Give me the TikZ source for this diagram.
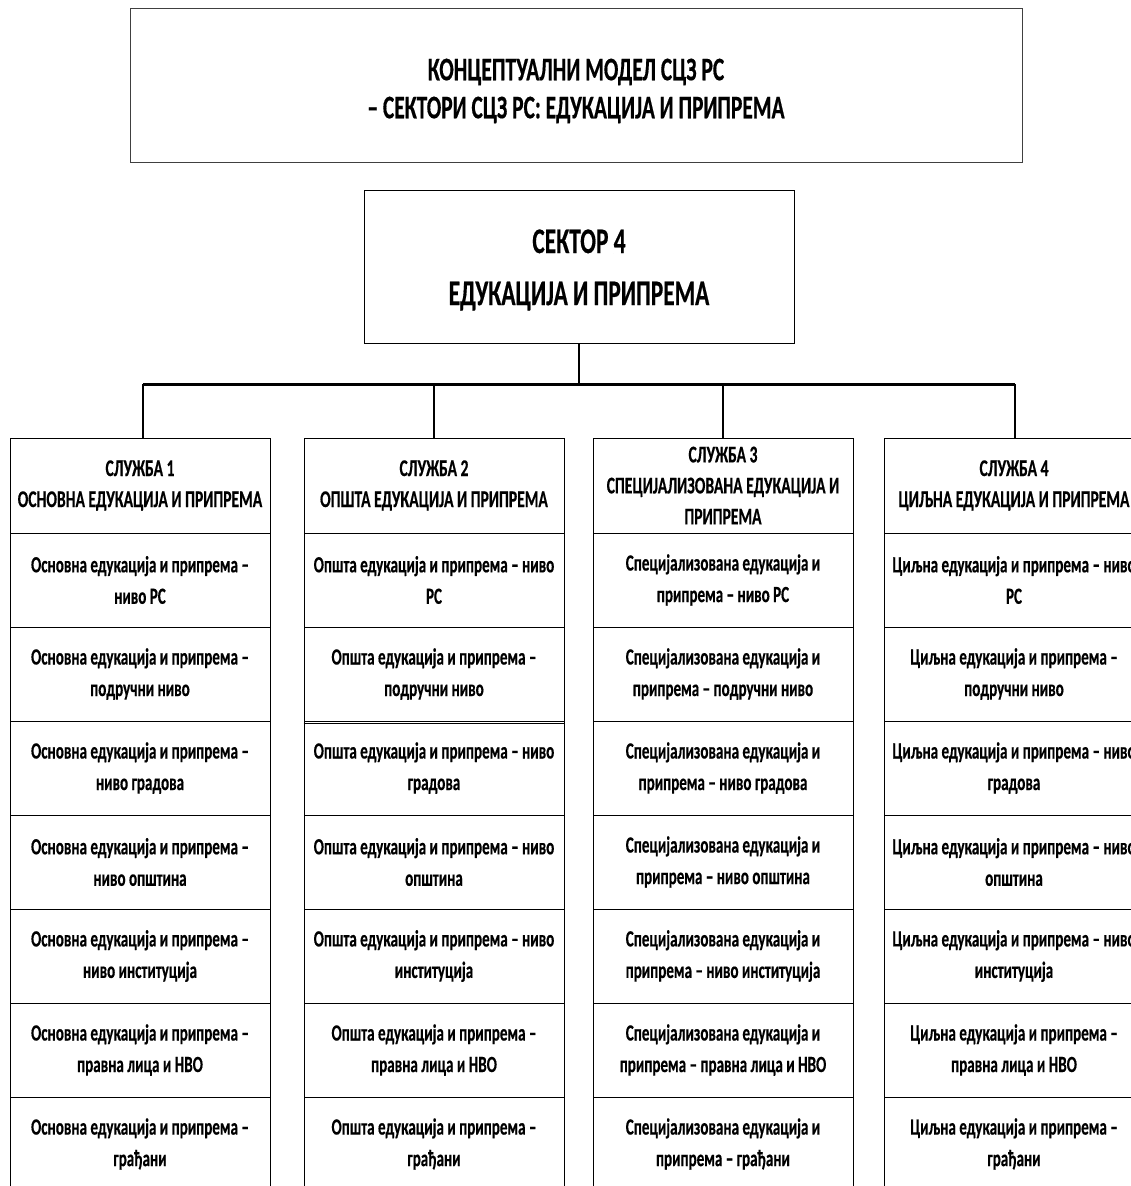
\documentclass[tikz,border=0pt]{standalone}
\usepackage{fontspec}
\setmainfont{Carlito}[FakeStretch=0.65, BoldFeatures={FakeBold=0.4}]
\begin{document}
\begin{tikzpicture}[x=1pt,y=-1pt,
  box/.style={draw, line width=1pt, align=center, inner sep=0pt},
  label/.style={align=center, inner sep=0pt},
  titlebox/.style={box, draw=black!75, minimum width=892pt, minimum height=154pt},
  titletext/.style={label, font=\bfseries\fontsize{33}{38}\selectfont},
  sectorbox/.style={box, minimum width=430pt, minimum height=153pt},
  sectortext/.style={label, font=\bfseries\fontsize{36}{52}\selectfont},
  cell/.style={box, minimum width=260pt, minimum height=94pt,
    font=\bfseries\fontsize{23.2}{31.5}\selectfont},
  headcell/.style={cell, minimum height=95pt,
    font=\bfseries\fontsize{24}{31}\selectfont},
  link/.style={line width=1.2pt},
  bus/.style={line width=3pt}]
\useasboundingbox (0,0) rectangle (1131,1186);
\clip (0,0) rectangle (1131,1186);

% title and sector boxes with their captions
\node[titlebox] (title) at (576,85) {};
\node[titletext] (titlet) at (576,91) {КОНЦЕПТУАЛНИ МОДЕЛ СЦЗ РС\\– СЕКТОРИ СЦЗ РС: ЕДУКАЦИЈА И ПРИПРЕМА};
\node[sectorbox] (sector) at (579,266.5) {};
\node[sectortext] (sectort) at (579,270) {СЕКТОР 4\\ЕДУКАЦИЈА И ПРИПРЕМА};

% column 1
\node[headcell] (c1h) at (140,485.5) {СЛУЖБА 1\\ОСНОВНА ЕДУКАЦИЈА И ПРИПРЕМА};
\node[cell] (c1r1) at (140,580) {Основна едукација и припрема –\\ниво РС};
\node[cell] (c1r2) at (140,674) {Основна едукација и припрема –\\подручни ниво};
\node[cell] (c1r3) at (140,768) {Основна едукација и припрема –\\ниво градова};
\node[cell] (c1r4) at (140,862) {Основна едукација и припрема –\\ниво општина};
\node[cell] (c1r5) at (140,956) {Основна едукација и припрема –\\ниво институција};
\node[cell] (c1r6) at (140,1050) {Основна едукација и припрема –\\правна лица и НВО};
\node[cell] (c1r7) at (140,1144) {Основна едукација и припрема –\\грађани};

% column 2
\node[headcell] (c2h) at (434,485.5) {СЛУЖБА 2\\ОПШТА ЕДУКАЦИЈА И ПРИПРЕМА};
\node[cell] (c2r1) at (434,580) {Општа едукација и припрема – ниво\\РС};
\node[cell] (c2r2) at (434,674) {Општа едукација и припрема –\\подручни ниво};
\node[cell] (c2r3) at (434,768) {Општа едукација и припрема – ниво\\градова};
\node[cell] (c2r4) at (434,862) {Општа едукација и припрема – ниво\\општина};
\node[cell] (c2r5) at (434,956) {Општа едукација и припрема – ниво\\институција};
\node[cell] (c2r6) at (434,1050) {Општа едукација и припрема –\\правна лица и НВО};
\node[cell] (c2r7) at (434,1144) {Општа едукација и припрема –\\грађани};
\draw[line width=1pt] ([yshift=-2.5pt]c2r3.north west) -- ([yshift=-2.5pt]c2r3.north east);

% column 3
\node[headcell] (c3h) at (723,485.5) {СЛУЖБА 3\\СПЕЦИЈАЛИЗОВАНА ЕДУКАЦИЈА И\\ПРИПРЕМА};
\node[cell] (c3r1) at (723,580) {Специјализована едукација и\\припрема – ниво РС};
\node[cell] (c3r2) at (723,674) {Специјализована едукација и\\припрема – подручни ниво};
\node[cell] (c3r3) at (723,768) {Специјализована едукација и\\припрема – ниво градова};
\node[cell] (c3r4) at (723,862) {Специјализована едукација и\\припрема – ниво општина};
\node[cell] (c3r5) at (723,956) {Специјализована едукација и\\припрема – ниво институција};
\node[cell] (c3r6) at (723,1050) {Специјализована едукација и\\припрема – правна лица и НВО};
\node[cell] (c3r7) at (723,1144) {Специјализована едукација и\\припрема – грађани};

% column 4
\node[headcell] (c4h) at (1014,485.5) {СЛУЖБА 4\\ЦИЉНА ЕДУКАЦИЈА И ПРИПРЕМА};
\node[cell] (c4r1) at (1014,580) {Циљна едукација и припрема – ниво\\РС};
\node[cell] (c4r2) at (1014,674) {Циљна едукација и припрема –\\подручни ниво};
\node[cell] (c4r3) at (1014,768) {Циљна едукација и припрема – ниво\\градова};
\node[cell] (c4r4) at (1014,862) {Циљна едукација и припрема – ниво\\општина};
\node[cell] (c4r5) at (1014,956) {Циљна едукација и припрема – ниво\\институција};
\node[cell] (c4r6) at (1014,1050) {Циљна едукација и припрема –\\правна лица и НВО};
\node[cell] (c4r7) at (1014,1144) {Циљна едукација и припрема –\\грађани};

% connectors
\coordinate (bus) at (579,384);
\draw[link] (sector.south) -- (sector.south |- bus);
\draw[bus] ([xshift=3pt]c1h.north |- bus) -- ([xshift=1pt]c4h.north |- bus);
\draw[link] ([xshift=3pt]c1h.north |- bus) -- ([xshift=3pt]c1h.north);
\draw[link] (c2h.north |- bus) -- (c2h.north);
\draw[link] (c3h.north |- bus) -- (c3h.north);
\draw[link] ([xshift=1pt]c4h.north |- bus) -- ([xshift=1pt]c4h.north);
\end{tikzpicture}
\end{document}
